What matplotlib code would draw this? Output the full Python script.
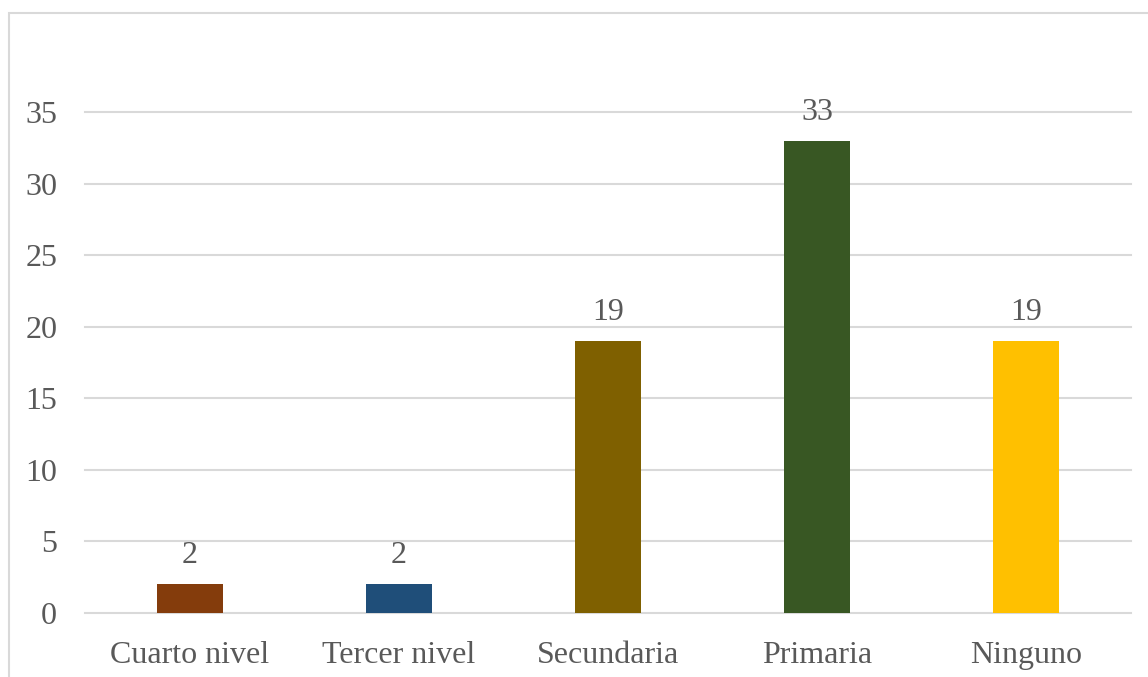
import matplotlib
matplotlib.use("Agg")
import matplotlib.pyplot as plt
from matplotlib.patches import Rectangle

categories = ["Cuarto nivel", "Tercer nivel", "Secundaria", "Primaria", "Ninguno"]
values = [2, 2, 19, 33, 19]
colors = ["#843C0C", "#1F4E79", "#7F6000", "#385723", "#FFC000"]
yticks = [0, 5, 10, 15, 20, 25, 30, 35]

plt.rcParams["font.family"] = ["Liberation Serif", "DejaVu Serif"]
text_color = "#595959"
grid_color = "#D9D9D9"

W, H = 1148, 677
fig = plt.figure(figsize=(W / 100, H / 100), dpi=100)
fig.patch.set_facecolor("white")

# outer chart frame
fig.add_artist(Rectangle((8.5 / W, 0 - 0.01), 1.05, 1 - 12.5 / H + 0.01,
                         transform=fig.transFigure, fill=False,
                         edgecolor=grid_color, linewidth=1.5))

left, right, top, bottom = 85, 1131, 112, 613
ax = fig.add_axes([left / W, 1 - bottom / H, (right - left) / W, (bottom - top) / H])

x = range(len(categories))
bars = ax.bar(x, values, width=0.315, color=colors, zorder=3)

for rect, v in zip(bars, values):
    ax.annotate(str(v), (rect.get_x() + rect.get_width() / 2, v),
                xytext=(0, 10), textcoords="offset points",
                ha="center", va="bottom", fontsize=23, color=text_color,
                annotation_clip=False)

ax.set_xlim(-0.5, len(categories) - 0.5)
ax.set_ylim(0, 35)
ax.set_yticks(yticks)
ax.set_xticks(list(x))
ax.set_xticklabels(categories)
ax.tick_params(axis="both", length=0, labelsize=23, labelcolor=text_color)
ax.tick_params(axis="y", pad=20)
ax.tick_params(axis="x", pad=20)

for s in ax.spines.values():
    s.set_visible(False)
ax.set_axisbelow(True)
for yv in yticks:
    ax.axhline(yv, color=grid_color, linewidth=1.5, zorder=0, clip_on=False)

fig.savefig("out.png", dpi=100)
